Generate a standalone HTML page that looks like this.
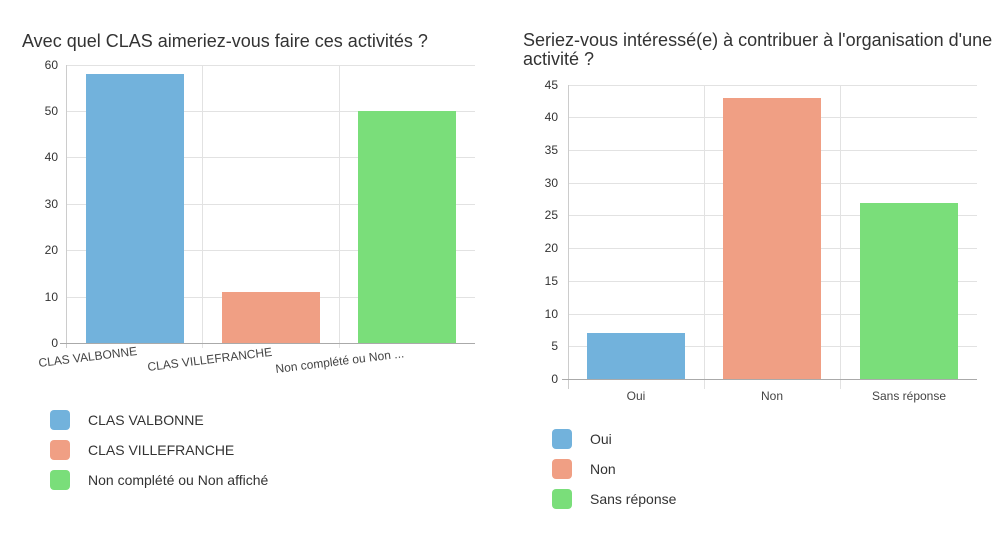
<!DOCTYPE html>
<html><head><meta charset="utf-8"><style>
body{margin:0;background:#fff;width:1001px;height:531px;overflow:hidden;font-family:"Liberation Sans",sans-serif}
</style></head><body>
<svg width="1001" height="531" xmlns="http://www.w3.org/2000/svg" font-family="Liberation Sans, sans-serif">
<text x="22" y="47" font-size="18" fill="#333">Avec quel CLAS aimeriez-vous faire ces activités ?</text>
<text x="523" y="46" font-size="18" fill="#333">Seriez-vous intéressé(e) à contribuer à l'organisation d'une</text>
<text x="523" y="65" font-size="18" fill="#333">activité ?</text>
<g stroke="#e2e2e2" stroke-width="1">
<line x1="66" y1="65.5" x2="475" y2="65.5"/><line x1="66" y1="111.5" x2="475" y2="111.5"/><line x1="66" y1="157.5" x2="475" y2="157.5"/><line x1="66" y1="204.5" x2="475" y2="204.5"/><line x1="66" y1="250.5" x2="475" y2="250.5"/><line x1="66" y1="297.5" x2="475" y2="297.5"/>
<line x1="202.5" y1="65" x2="202.5" y2="348"/><line x1="339.5" y1="65" x2="339.5" y2="348"/>
</g>
<g fill="#333" font-size="12" text-anchor="end">
<text x="58" y="69">60</text><text x="58" y="115">50</text><text x="58" y="161">40</text><text x="58" y="208">30</text><text x="58" y="254">20</text><text x="58" y="301">10</text><text x="58" y="347">0</text>
</g>
<rect x="86" y="74" width="98" height="269" fill="#72b2dc"/>
<rect x="222" y="292" width="98" height="51" fill="#f09f84"/>
<rect x="358" y="111" width="98" height="232" fill="#7ade7a"/>
<line x1="66.5" y1="65" x2="66.5" y2="348" stroke="#ccc"/>
<line x1="60" y1="343.5" x2="475" y2="343.5" stroke="#aaa"/>
<g fill="#444" font-size="12">
<text transform="translate(39,367) rotate(-7)">CLAS VALBONNE</text>
<text transform="translate(148,371) rotate(-7)">CLAS VILLEFRANCHE</text>
<text transform="translate(276,373) rotate(-7)">Non complété ou Non ...</text>
</g>
<g stroke="#e2e2e2">
<line x1="568" y1="85.5" x2="977" y2="85.5"/><line x1="568" y1="117.5" x2="977" y2="117.5"/><line x1="568" y1="150.5" x2="977" y2="150.5"/><line x1="568" y1="183.5" x2="977" y2="183.5"/><line x1="568" y1="215.5" x2="977" y2="215.5"/><line x1="568" y1="248.5" x2="977" y2="248.5"/><line x1="568" y1="281.5" x2="977" y2="281.5"/><line x1="568" y1="314.5" x2="977" y2="314.5"/><line x1="568" y1="346.5" x2="977" y2="346.5"/>
<line x1="704.5" y1="85" x2="704.5" y2="389"/><line x1="840.5" y1="85" x2="840.5" y2="389"/>
</g>
<g fill="#333" font-size="12" text-anchor="end">
<text x="558" y="89">45</text><text x="558" y="121">40</text><text x="558" y="154">35</text><text x="558" y="187">30</text><text x="558" y="219">25</text><text x="558" y="252">20</text><text x="558" y="285">15</text><text x="558" y="318">10</text><text x="558" y="350">5</text><text x="558" y="383">0</text>
</g>
<rect x="587" y="333" width="98" height="46" fill="#72b2dc"/>
<rect x="723" y="98" width="98" height="281" fill="#f09f84"/>
<rect x="860" y="203" width="98" height="176" fill="#7ade7a"/>
<line x1="568.5" y1="85" x2="568.5" y2="389" stroke="#ccc"/>
<line x1="562" y1="379.5" x2="977" y2="379.5" stroke="#aaa"/>
<g fill="#444" font-size="12" text-anchor="middle">
<text x="636" y="400">Oui</text><text x="772" y="400">Non</text><text x="909" y="400">Sans réponse</text>
</g>
<g font-size="14" fill="#333">
<rect x="50" y="410" width="20" height="20" rx="4" fill="#72b2dc"/><text x="88" y="425">CLAS VALBONNE</text>
<rect x="50" y="440" width="20" height="20" rx="4" fill="#f09f84"/><text x="88" y="455">CLAS VILLEFRANCHE</text>
<rect x="50" y="470" width="20" height="20" rx="4" fill="#7ade7a"/><text x="88" y="485">Non complété ou Non affiché</text>
<rect x="552" y="429" width="20" height="20" rx="4" fill="#72b2dc"/><text x="590" y="444">Oui</text>
<rect x="552" y="459" width="20" height="20" rx="4" fill="#f09f84"/><text x="590" y="474">Non</text>
<rect x="552" y="489" width="20" height="20" rx="4" fill="#7ade7a"/><text x="590" y="504">Sans réponse</text>
</g>
</svg>
</body></html>
